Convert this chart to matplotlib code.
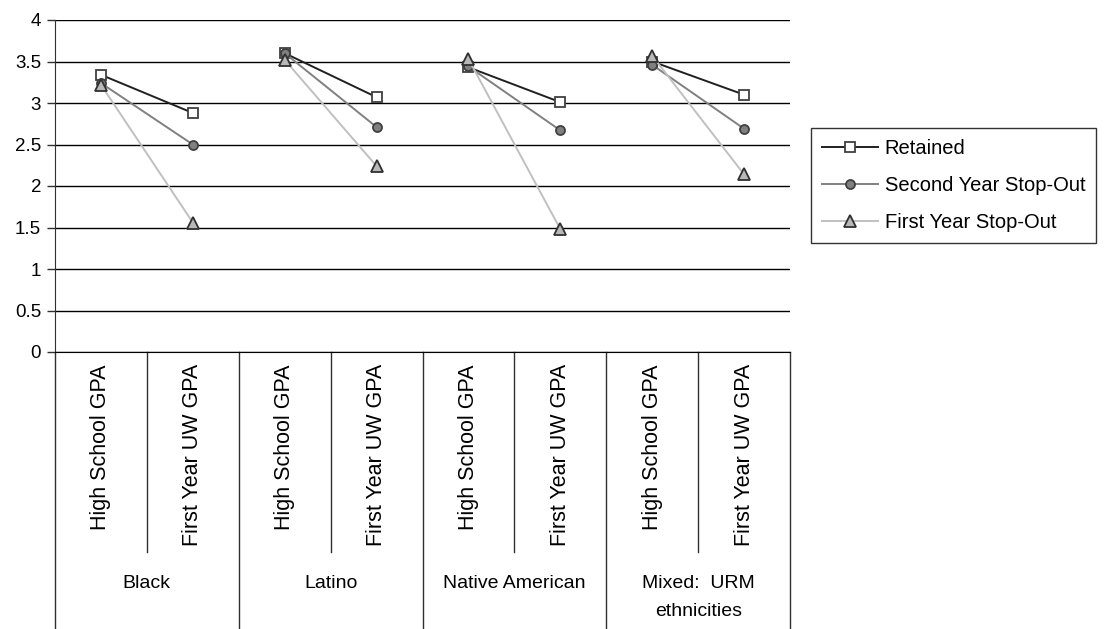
import matplotlib.pyplot as plt
import numpy as np

plt.rcParams['font.family'] = ['Liberation Sans', 'DejaVu Sans']

groups = ['Black', 'Latino', 'Native American', 'Mixed:  URM\nethnicities']
measures = ['High School GPA', 'First Year UW GPA']

# (high school, first year) per group
retained = [3.34, 2.88, 3.60, 3.07, 3.43, 3.01, 3.50, 3.10]
second_year = [3.24, 2.50, 3.60, 2.71, 3.44, 2.67, 3.46, 2.69]
first_year = [3.22, 1.56, 3.52, 2.24, 3.53, 1.48, 3.57, 2.14]

series = [
    ('Retained', retained, 's', 'white', '#404040', '#202020', 7),
    ('Second Year Stop-Out', second_year, 'o', '#808080', '#404040', '#808080', 6.5),
    ('First Year Stop-Out', first_year, '^', '#b8b8b8', '#303030', '#c0c0c0', 8),
]

W, H = 1108, 629
fig = plt.figure(figsize=(W / 100, H / 100), dpi=100)
left, right, top, bottom = 55, 790, 20, 352
ax = fig.add_axes([left / W, 1 - bottom / H, (right - left) / W, (bottom - top) / H])

n = len(groups) * len(measures)
xs = np.arange(n) + 0.5

for label, vals, mk, face, edge, lc, ms in series:
    for g in range(len(groups)):
        idx = slice(2 * g, 2 * g + 2)
        ax.plot(xs[idx], vals[idx], color=lc, lw=1.4, marker=mk, ms=ms,
                mfc=face, mec=edge, mew=1.3,
                label=label if g == 0 else None, zorder=3)

ax.set_xlim(0, n)
ax.set_ylim(0, 4)
ax.set_yticks(np.arange(0, 4.01, 0.5))
ax.set_yticklabels(['0', '0.5', '1', '1.5', '2', '2.5', '3', '3.5', '4'])
ax.yaxis.grid(True, color='black', lw=1)
ax.set_axisbelow(True)
ax.set_xticks([])
for s in ['top', 'right']:
    ax.spines[s].set_visible(False)
ax.spines['left'].set_color('#303030')
ax.spines['bottom'].set_color('black')
ax.tick_params(axis='y', length=6, width=1, color='#303030', labelsize=13.5, pad=4)

# category area below the axis
ph = bottom - top
inner_bot = -(552 - bottom) / ph
outer_bot = -(H - bottom) / ph
for i in range(n + 1):
    y0 = outer_bot if i % 2 == 0 else inner_bot
    ax.plot([i, i], [0, y0], transform=ax.get_xaxis_transform(),
            color='#303030', lw=1, clip_on=False)

label_top = -(364 - bottom) / ph
for i, x in enumerate(xs):
    ax.text(x, label_top, measures[i % 2], rotation=90, ha='center', va='top',
            transform=ax.get_xaxis_transform(), fontsize=15.5)

group_y = -(575 - bottom) / ph
for g, name in enumerate(groups):
    ax.text(2 * g + 1, group_y, name, ha='center', va='top', linespacing=1.85,
            transform=ax.get_xaxis_transform(), fontsize=14)

leg = fig.legend(loc='upper left', bbox_to_anchor=(811 / W, 1 - 128 / H),
                 fontsize=14.5, frameon=True, fancybox=False, handlelength=2.8,
                 borderpad=0.55, labelspacing=0.9, handletextpad=0.3,
                 borderaxespad=0)
leg.get_frame().set_edgecolor('black')
leg.get_frame().set_linewidth(1)

fig.savefig('out.png', dpi=100)
